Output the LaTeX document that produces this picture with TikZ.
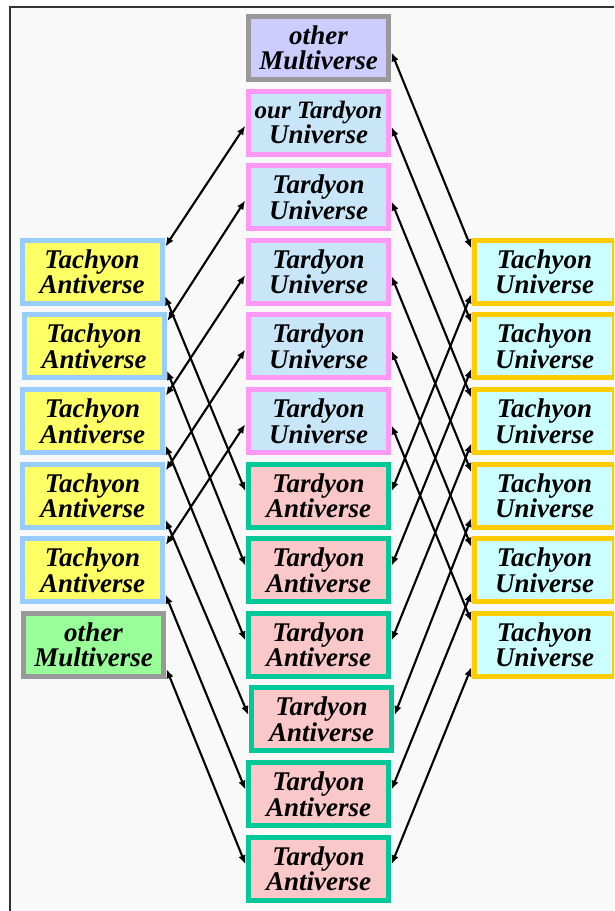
\documentclass[tikz,border=0pt]{standalone}
\usepackage{fontspec}
\setmainfont{Liberation Serif}
\usetikzlibrary{arrows.meta}
\definecolor{bgcol}{HTML}{F9F9F9}
\definecolor{framecol}{HTML}{333333}
\definecolor{grayb}{HTML}{999999}
\definecolor{lavfill}{HTML}{CCCCFF}
\definecolor{pinkb}{HTML}{FF99F5}
\definecolor{univfill}{HTML}{C8E6F8}
\definecolor{tealb}{HTML}{00C896}
\definecolor{antifill}{HTML}{FAC8C8}
\definecolor{lblueb}{HTML}{99CCFF}
\definecolor{yelfill}{HTML}{FFFF66}
\definecolor{greenfill}{HTML}{99FF99}
\definecolor{goldb}{HTML}{FFCC00}
\definecolor{cyanfill}{HTML}{CCFFFF}
\tikzset{
  box/.style={rectangle, line width=5pt, minimum width=140pt, minimum height=63pt,
    inner sep=0pt, align=center, text=black,
    font=\fontsize{27}{23.5}\selectfont\bfseries\itshape},
  othermv/.style={box, draw=grayb, fill=lavfill, font=\fontsize{27}{24.5}\selectfont\bfseries\itshape},
  greenmv/.style={box, draw=grayb, fill=greenfill, font=\fontsize{27}{24.5}\selectfont\bfseries\itshape},
  univ/.style={box, draw=pinkb, fill=univfill},
  anti/.style={box, draw=tealb, fill=antifill},
  tachanti/.style={box, draw=lblueb, fill=yelfill},
  tachuniv/.style={box, draw=goldb, fill=cyanfill},
  conn/.style={line width=2.1pt, black, {Latex[length=9pt,width=7.5pt]}-{Latex[length=9pt,width=7.5pt]},
    shorten <=1.5pt, shorten >=1.5pt}
}
\begin{document}
\begin{tikzpicture}[x=1pt,y=-1pt]
\useasboundingbox (0,0) rectangle (614,911);
\clip (0,0) rectangle (614,911);
\fill[white] (0,0) rectangle (614,911);
\draw[fill=bgcol, draw=framecol, line width=1.3pt] (10,7) rectangle (660,960);

% centre column
\node[othermv] (c0) at (318.5,48) {other\\Multiverse};
\node[univ] (c1) at (318.5,122.6) {{\fontsize{25}{23.5}\selectfont our Tardyon}\\Universe};
\foreach \k in {2,...,5}
  \node[univ] (c\k) at (318.5,{48+74.6*\k}) {Tardyon\\Universe};
\foreach \k in {6,7,8,10,11}
  \node[anti] (c\k) at (318.5,{48+74.6*\k}) {Tardyon\\Antiverse};
\node[anti] (c9) at (321.5,{48+74.6*9}) {Tardyon\\Antiverse};

% left column
\foreach \k/\x in {3/92,4/94,5/92.5,6/92.5,7/92.5}
  \node[tachanti] (l\k) at (\x,{48+74.6*\k}) {Tachyon\\Antiverse};
\node[greenmv] (l8) at (93.5,{48+74.6*8}) {other\\Multiverse};

% right column
\foreach \k in {3,...,8}
  \node[tachuniv] (r\k) at (544.5,{48+74.6*\k}) {Tachyon\\Universe};

% left connectors
\foreach \k/\j in {3/1,4/2,5/3,6/4,7/5}
  \draw[conn] ([yshift=24pt]l\k.east) -- ([yshift=-2pt]c\j.west);
\foreach \k/\j in {3/6,4/7,5/8,6/9,7/10,8/11}
  \draw[conn] ([yshift=-23pt]l\k.east) -- ([yshift=3pt]c\j.west);

% right connectors
\foreach \k/\j in {0/3,1/4,2/5,3/6,4/7,5/8}
  \draw[conn] ([yshift=-3pt]c\k.east) -- ([yshift=22pt]r\j.west);
\foreach \k/\j in {6/3,7/4,8/5,9/6,10/7,11/8}
  \draw[conn] ([yshift=3pt]c\k.east) -- ([yshift=-21pt]r\j.west);
\end{tikzpicture}
\end{document}
